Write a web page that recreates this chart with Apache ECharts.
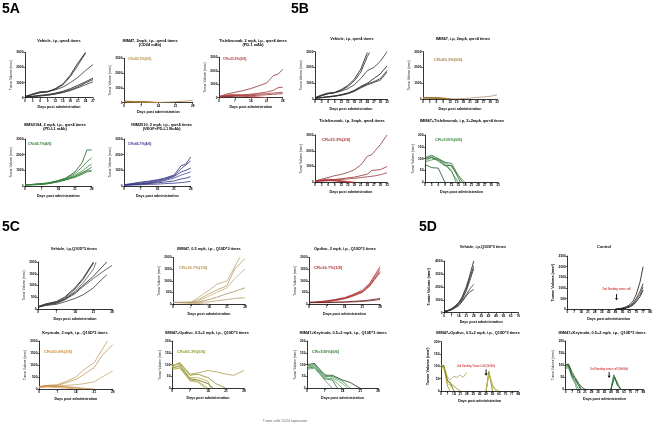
<!DOCTYPE html>
<html><head><meta charset="utf-8">
<script src="https://cdn.jsdelivr.net/npm/echarts@6.0.0/dist/echarts.min.js"></script>
<style>html,body{margin:0;padding:0;background:#fff}#c{width:658px;height:426px}</style>
</head><body><div id="c"></div>
<script>
// ---------- tick labels ----------
const ticksDays27 = [0,3,6,9,12,15,18,21,24,27];
const ticksDays28 = [0,7,14,21,28];
const ticksDays33 = [0,3,6,9,12,15,18,21,24,27,30,33];
const ticksDays70 = [0,7,14,21,28,35,42,49,56,63,70];
const ticksDays84 = [0,7,14,21,28,35,42,49,56,63,70,77,84];
const ticksVol3000 = [0,1000,2000,3000];
const ticksVol2000 = [0,500,1000,1500,2000];
const ticksVol200 = [0,50,100,150,200];
const ticksVol4000 = [0,1000,2000,3000,4000];
const ticksVol2500 = [0,500,1000,1500,2000,2500];

// ---------- series values: each mouse = [[day, tumor volume mm3], ...] ----------
const a1Vehicle = [
 [[0,80],[3,200],[6,330],[9,400],[12,600],[15,900],[18,1500],[21,2300],[24,3000]],
 [[0,70],[3,230],[6,360],[9,380],[12,560],[15,850],[18,1400],[21,2150],[24,2950]],
 [[0,60],[3,250],[6,400],[9,420],[12,520],[15,700],[18,1000],[21,1350],[24,1800],[27,2200]],
 [[0,50],[3,100],[6,160],[9,210],[12,300],[15,420],[18,600],[21,820],[24,1050],[27,1300]],
 [[0,40],[3,80],[6,130],[9,180],[12,260],[15,360],[18,520],[21,720],[24,980],[27,1200]],
 [[0,40],[3,70],[6,110],[9,160],[12,240],[15,340],[18,470],[21,660],[24,860],[27,1050]]
];
const a2Imm47 = [
 [[0,80],[3,75],[7,60],[10,40],[14,20],[17,30],[21,60],[24,100],[28,150]],
 [[0,90],[3,80],[7,70],[10,50],[14,0]],
 [[0,70],[3,65],[7,50],[10,30],[14,0]],
 [[0,100],[3,90],[7,60],[10,30],[12,0]],
 [[0,60],[3,55],[7,40],[10,20],[14,0]],
 [[0,80],[3,70],[7,50],[10,0]]
];
const a3Tisle = [
 [[0,80],[3,250],[7,400],[10,500],[14,680],[17,850],[21,1100],[24,1650],[26,1750],[28,2100]],
 [[0,80],[3,120],[7,160],[10,200],[14,260],[17,320],[21,420],[24,550],[26,750],[28,780]],
 [[0,70],[3,100],[7,150],[10,180],[14,220],[17,260],[21,300],[24,350],[26,380],[28,400]],
 [[0,60],[3,80],[7,100],[10,120],[14,150],[17,180],[21,220],[24,260],[28,300]],
 [[0,100],[3,200],[7,250],[10,200],[14,120],[17,60],[21,0]],
 [[0,80],[3,150],[7,180],[10,120],[14,50],[17,0]]
];
const a4Pdl1 = [
 [[0,80],[3,100],[7,150],[10,200],[14,350],[17,500],[21,900],[24,1500],[26,2300],[28,2300]],
 [[0,80],[3,100],[7,140],[10,200],[14,340],[17,480],[21,800],[24,1200],[26,1550],[28,1800]],
 [[0,80],[3,90],[7,130],[10,180],[14,320],[17,450],[21,700],[24,950],[26,1200],[28,1400]],
 [[0,70],[3,90],[7,120],[10,170],[14,300],[17,420],[21,620],[24,850],[26,1000],[28,1200]],
 [[0,70],[3,80],[7,110],[10,160],[14,300],[17,400],[21,600],[24,800],[26,950],[28,1000]],
 [[0,60],[3,70],[7,100],[10,150],[14,260],[17,380],[21,550],[24,750],[26,900],[28,950]]
];
const a5Imm2510 = [
 [[0,80],[3,150],[7,250],[10,300],[14,400],[17,500],[21,700],[24,1300],[26,1400],[28,1850]],
 [[0,80],[3,120],[7,200],[10,260],[14,350],[17,450],[21,650],[24,1100],[26,1350],[28,1600]],
 [[0,70],[3,100],[7,150],[10,200],[14,300],[17,400],[21,600],[24,900],[26,1000],[28,1150]],
 [[0,60],[3,90],[7,130],[10,180],[14,250],[17,350],[21,500],[24,700],[26,800],[28,900]],
 [[0,60],[3,80],[7,110],[10,150],[14,200],[17,250],[21,320],[24,450],[26,500],[28,600]],
 [[0,50],[3,60],[7,80],[10,100],[14,120],[17,150],[21,180],[24,220],[26,250],[28,300]]
];
const b1Vehicle = [
 [[0,80],[3,260],[6,380],[9,420],[12,600],[15,850],[18,1250],[21,1900],[24,2950]],
 [[0,70],[3,220],[6,340],[9,390],[12,540],[15,780],[18,1150],[21,1700],[24,2700],[25,2950]],
 [[0,60],[3,200],[6,330],[9,400],[12,500],[15,650],[18,900],[21,1300],[24,1800],[27,2000],[30,2400],[33,3000]],
 [[0,50],[3,100],[6,150],[9,200],[12,280],[15,380],[18,550],[21,800],[24,1000],[27,1300],[30,1600],[33,2100]],
 [[0,50],[3,90],[6,130],[9,180],[12,250],[15,350],[18,500],[21,750],[24,950],[27,1100],[30,1300],[33,1800]],
 [[0,40],[3,80],[6,120],[9,170],[12,240],[15,330],[18,480],[21,700],[24,900],[27,1050],[30,1200],[33,1700]]
];
const b2Imm47 = [
 [[0,80],[3,70],[6,60],[9,50],[12,20],[15,10],[18,30],[21,60],[24,100],[27,130],[30,170],[33,260]],
 [[0,90],[3,80],[6,70],[9,50],[12,0]],
 [[0,70],[3,60],[6,50],[9,30],[12,0]],
 [[0,100],[3,90],[6,80],[9,40],[12,0]],
 [[0,60],[3,50],[6,40],[9,20],[11,0]],
 [[0,80],[3,70],[6,60],[9,0]]
];
const b3Tisle = [
 [[0,80],[3,200],[6,300],[9,420],[12,500],[15,620],[18,800],[21,1100],[24,1650],[26,1750],[30,2400],[33,3000]],
 [[0,80],[3,100],[6,140],[9,180],[12,230],[15,280],[18,330],[21,420],[24,520],[26,750],[30,800],[33,1000]],
 [[0,60],[3,80],[6,110],[9,140],[12,180],[15,210],[18,250],[21,300],[24,350],[27,400],[30,480],[33,600]],
 [[0,80],[3,150],[6,200],[9,150],[12,100],[15,50],[18,0]],
 [[0,70],[3,120],[6,140],[9,110],[12,70],[15,20],[18,0]],
 [[0,60],[3,90],[6,110],[9,90],[12,50],[15,0]]
];
const b4Combo = [
 [[0,75],[3,62],[6,60],[9,0]],
 [[0,90],[3,105],[6,95],[9,75],[12,45],[15,0]],
 [[0,100],[3,115],[6,100],[9,85],[12,80],[15,30],[17,0]],
 [[0,110],[3,110],[6,95],[9,85],[12,65],[15,30],[18,0]],
 [[0,100],[3,105],[6,90],[9,70],[12,72],[15,20],[16,0]],
 [[0,85],[3,95],[6,100],[9,80],[12,50],[14,0]]
];
const c1Vehicle = [
 [[0,100],[3,220],[7,320],[10,500],[14,900],[17,1300],[21,2000]],
 [[0,100],[3,200],[7,300],[10,450],[14,850],[17,1250],[21,1950]],
 [[0,90],[3,210],[7,280],[10,420],[14,750],[17,1100],[21,1700],[22,2000]],
 [[0,80],[3,180],[7,250],[10,400],[14,700],[17,1000],[21,1400],[26,2000]],
 [[0,80],[3,170],[7,250],[10,380],[14,650],[17,950],[21,1300],[24,1550],[28,1850]],
 [[0,70],[3,150],[7,200],[10,300],[14,450],[17,600],[21,900],[24,1250],[26,1450]]
];
const c2Imm47 = [
 [[0,80],[3,80],[7,100],[10,300],[14,600],[17,850],[21,1000],[26,2000]],
 [[0,80],[3,80],[7,80],[10,200],[14,450],[17,600],[21,800],[24,1500],[28,1950]],
 [[0,80],[3,80],[7,80],[10,150],[14,350],[17,500],[21,700],[24,1100],[28,1500]],
 [[0,80],[3,80],[7,70],[10,100],[14,200],[17,300],[21,450],[24,550],[28,700]],
 [[0,70],[3,70],[7,60],[10,80],[14,100],[17,150],[21,200],[24,250],[28,280]],
 [[0,80],[3,70],[7,50],[10,30],[14,0]]
];
const c3Opdivo = [
 [[0,80],[3,100],[7,150],[10,200],[14,280],[17,400],[21,600],[24,900],[28,1600]],
 [[0,80],[3,90],[7,130],[10,180],[14,260],[17,380],[21,550],[24,850],[28,1500]],
 [[0,70],[3,80],[7,120],[10,170],[14,250],[17,350],[21,520],[24,800],[28,1400]],
 [[0,70],[3,80],[7,110],[10,150],[14,230],[17,330],[21,500],[24,780],[28,1350]],
 [[0,80],[3,80],[7,80],[10,90],[14,100],[17,120],[21,150],[24,180],[28,250]],
 [[0,70],[3,70],[7,70],[10,80],[14,90],[17,100],[21,120],[24,150],[28,200]]
];
const c4Keytruda = [
 [[0,100],[3,150],[7,180],[10,300],[14,500],[17,800],[21,1100],[26,2000]],
 [[0,100],[3,120],[7,150],[10,250],[14,400],[17,600],[21,900],[24,1400],[28,1850]],
 [[0,80],[3,100],[7,120],[10,150],[14,180],[17,220],[21,300],[24,500],[28,750]],
 [[0,100],[3,150],[7,120],[10,100],[14,60],[17,30],[21,0]],
 [[0,80],[3,120],[7,100],[10,80],[14,40],[17,0]],
 [[0,60],[3,80],[7,60],[10,40],[14,0]]
];
const c5ImmOpdivo = [
 [[0,90],[3,110],[7,60],[10,65],[14,75],[17,70],[21,60],[24,55],[28,75]],
 [[0,95],[3,105],[7,55],[10,60],[14,45],[17,20],[21,0]],
 [[0,100],[3,100],[7,45],[10,45],[14,30],[15,0]],
 [[0,85],[3,95],[7,40],[10,35],[14,20],[16,0]],
 [[0,90],[3,90],[7,30],[10,25],[13,0]],
 [[0,80],[3,85],[7,35],[10,30],[14,0]]
];
const c6ImmKeytruda = [
 [[0,100],[3,105],[7,55],[10,55],[14,35],[17,25],[21,0]],
 [[0,95],[3,100],[7,50],[10,50],[14,30],[17,0]],
 [[0,90],[3,95],[7,45],[10,40],[14,0]],
 [[0,85],[3,90],[7,40],[10,35],[12,0]],
 [[0,80],[3,85],[7,35],[10,0]],
 [[0,95],[3,100],[7,60],[10,45],[14,20],[16,0]]
];
const d1Vehicle = [
 [[0,100],[3,150],[7,300],[10,480],[14,800],[17,1200],[21,2000],[24,2800],[28,4000]],
 [[0,100],[3,140],[7,280],[10,450],[14,750],[17,1100],[21,1800],[24,2600],[28,3600]],
 [[0,90],[3,130],[7,260],[10,420],[14,700],[17,1000],[21,1700],[24,2400],[28,3400]],
 [[0,80],[3,120],[7,250],[10,380],[14,600],[17,900],[21,1400],[24,1800],[28,2200]],
 [[0,80],[3,110],[7,220],[10,350],[14,550],[17,850],[21,1300],[24,1600],[28,1800]]
];
const d2Control = [
 [[49,0],[53,30],[56,60],[60,120],[63,200],[67,400],[70,700],[74,1300],[77,2000]],
 [[49,0],[53,20],[56,40],[60,90],[63,150],[67,300],[70,500],[74,850],[77,1200]],
 [[49,0],[53,20],[56,30],[60,80],[63,130],[67,250],[70,420],[74,700],[77,1050]],
 [[49,0],[53,10],[56,20],[60,60],[63,100],[67,200],[70,350],[74,600],[77,900]]
];
const d3ImmOpdivo = [
 [[0,100],[3,105],[7,55],[10,45],[14,60],[17,55],[21,65],[24,55],[28,75]],
 [[0,105],[3,100],[7,45],[10,30],[14,20],[17,10],[21,0]],
 [[0,95],[3,100],[7,40],[10,35],[14,0]],
 [[0,90],[3,95],[7,30],[10,25],[14,0]],
 [[0,100],[3,105],[7,20],[10,0]],
 [[49,0],[52,80],[56,0]],
 [[49,0],[52,75],[56,25],[60,0]],
 [[49,0],[52,70],[56,15],[63,0]]
];
const d4ImmKeytruda = [
 [[0,100],[3,105],[7,70],[10,50],[14,25],[17,10],[21,0]],
 [[0,95],[3,100],[7,60],[10,45],[14,20],[17,0]],
 [[0,90],[3,95],[7,50],[10,30],[14,0]],
 [[0,85],[3,90],[7,45],[10,25],[12,0]],
 [[0,105],[3,100],[7,55],[10,40],[14,15],[16,0]],
 [[49,0],[52,60],[56,20],[60,0]],
 [[49,0],[52,55],[56,30],[59,0]],
 [[49,0],[53,50],[56,15],[60,0]]
];

// ---------- panels (text + data + colours) ----------
const BLK = ['#111','#222','#333','#111','#222','#333'];
const panels = [
 {id:'A1', title:['Vehicle, i.p, qw×4 times'], x:ticksDays27, y:ticksVol3000, data:a1Vehicle, colors:BLK},
 {id:'A2', title:['IMM47, 2mpk, i.p., qw×4 times','(CD24 mAb)'], x:ticksDays28, y:ticksVol3000, data:a2Imm47, colors:['#b08850','#a0702a','#c09050','#8a6020','#b07a30','#a08040'], cr:'CR=83.3%(5/6)', crColor:'#b8914a'},
 {id:'A3', title:['Tislelizumab, 2 mpk, i.p., qw×4 times','(PD-1 mAb)'], x:ticksDays28, y:ticksVol3000, data:a3Tisle, colors:['#8a3030','#a03030','#b04040','#902828','#c04848','#b03838'], cr:'CR=33.3%(2/6)', crColor:'#b03838'},
 {id:'A4', title:['BMS2194, 2 mpk, i.p., qw×4 times','(PD-L1 mAb)'], x:ticksDays28, y:ticksVol3000, data:a4Pdl1, colors:['#1e5e28','#2e7d32','#3a8a3a','#1e5e28','#4a9a4a','#2e7d32'], cr:'CR=66.7%(4/6)', crColor:'#2e7d32'},
 {id:'A5', title:['IMM2510, 2 mpk, i.p., qw×4 times','(VEGF×PD-L1 BsAb)'], x:ticksDays28, y:ticksVol3000, data:a5Imm2510, colors:['#2a2a78','#3a3a8a','#23236a','#4a4a9a','#2a2a78','#3a3a8a'], cr:'CR=66.7%(4/6)', crColor:'#33338a'},
 {id:'B1', title:['Vehicle, i.p, qw×4 times'], x:ticksDays33, y:ticksVol3000, data:b1Vehicle, colors:BLK},
 {id:'B2', title:['IMM47, i.p, 2mpk, qw×4 times'], x:ticksDays33, y:ticksVol3000, data:b2Imm47, colors:['#b09070','#a0702a','#c09050','#8a6020','#b07a30','#a08040'], cr:'CR=83.3%(5/6)', crColor:'#a8844a'},
 {id:'B3', title:['Tislelizumab, i.p, 2mpk, qw×4 times'], x:ticksDays33, y:ticksVol3000, data:b3Tisle, colors:['#8a3838','#903030','#a03a3a','#b03030','#c04040','#a02828'], cr:'CR=33.3%(2/6)', crColor:'#a83838'},
 {id:'B4', title:['IMM47+Tislelizumab, i.p, 2+2mpk, qw×4 times'], x:ticksDays33, y:ticksVol200, data:b4Combo, colors:['#1e4e28','#3a8a4a','#2e6e38','#5a9a5a','#1e5e28','#4a8a4a'], cr:'CR=100%(6/6)', crColor:'#3a8a3a'},
 {id:'C1', title:['Vehicle, i.p,Q10D*3 times'], x:ticksDays28, y:ticksVol2000, data:c1Vehicle, colors:['#111','#333','#555','#222','#444','#333']},
 {id:'C2', title:['IMM47, 0.5 mpk, i.p., Q10D*3 times'], x:ticksDays28, y:ticksVol2000, data:c2Imm47, colors:['#c0a870','#b89860','#c8b080','#a89060','#b8a070','#c0a070'], cr:'CR=16.7%(1/6)', crColor:'#b0944a'},
 {id:'C3', title:['Opdivo, 2 mpk, i.p., Q10D*3 times'], x:ticksDays28, y:ticksVol2000, data:c3Opdivo, colors:['#a02828','#b83838','#902020','#c04848','#501818','#802828'], cr:'CR=16.7%(1/6)', crColor:'#b03030'},
 {id:'C4', title:['Keytruda, 2 mpk, i.p., Q10D*3 times'], x:ticksDays28, y:ticksVol2000, data:c4Keytruda, colors:['#c8a060','#c09860','#c8a870','#d08838','#c89048','#d8a060'], cr:'CR=50.0%(3/6)', crColor:'#d08a30'},
 {id:'C5', title:['IMM47+Opdivo, 0.5+2 mpk, i.p., Q10D*3 times'], x:ticksDays28, y:ticksVol200, data:c5ImmOpdivo, colors:['#a8a050','#8a8a20','#b0b040','#6a6a10','#c0b860','#9a9a30'], cr:'CR=83.3%(5/6)', crColor:'#8a9a2a'},
 {id:'C6', title:['IMM47+Keytruda, 0.5+2 mpk, i.p., Q10D*3 times'], x:ticksDays28, y:ticksVol200, data:c6ImmKeytruda, colors:['#1a3a1a','#3a8a4a','#5aa060','#2e7040','#4a9a5a','#6ab070'], cr:'CR=100%(6/6)', crColor:'#2e7d32'},
 {id:'D1', title:['Vehicle, i.p,Q10D*3 times'], x:ticksDays70, y:ticksVol4000, data:d1Vehicle, colors:['#111','#222','#333','#444','#222'], boldY:true},
 {id:'D2', title:['Control'], x:ticksDays84, y:ticksVol2500, data:d2Control, colors:['#111','#222','#333','#111'], boldY:true},
 {id:'D3', title:['IMM47+Opdivo, 0.5+2 mpk, i.p., Q10D*3 times'], x:ticksDays84, y:ticksVol200, data:d3ImmOpdivo, colors:['#a8a050','#8a8a10','#6a6a00','#b0b040','#9a9a20','#7a7a00','#a0a030','#c0b850'], boldY:true},
 {id:'D4', title:['IMM47+Keytruda, 0.5+2 mpk, i.p., Q10D*3 times'], x:ticksDays84, y:ticksVol200, data:d4ImmKeytruda, colors:['#1a3a1a','#2e6e38','#3a8a4a','#5aa060','#1e5e28','#2e6e38','#3a8a4a','#1a4a20']}
];

// ---------- layout (pixels) ----------
const layout = {
 A1:{l:25,t:52.5,r:93,b:97.7, tx:59,ty:40.5},
 A2:{l:124,t:58.3,r:192.7,b:102.7, tx:150,ty:40.5, cx:128,cy:59.5},
 A3:{l:219,t:57.3,r:282.7,b:97.7, tx:253,ty:40.5, cx:223,cy:59.5},
 A4:{l:25,t:139,r:91.7,b:186, tx:55,ty:124.5, cx:28,cy:144},
 A5:{l:124,t:139,r:190.7,b:186, tx:161.7,ty:124.5, cx:128,cy:144},
 B1:{l:315,t:51.7,r:387,b:99, tx:352,ty:39},
 B2:{l:423,t:51.7,r:497,b:99, tx:463,ty:39, cx:434,cy:59.5},
 B3:{l:315,t:135,r:387,b:182.3, tx:352,ty:121, cx:322,cy:139.5},
 B4:{l:425,t:135,r:498,b:182.3, tx:462,ty:121, cx:435,cy:139.5},
 C1:{l:38,t:262,r:112,b:309, tx:74,ty:249},
 C2:{l:173,t:257.3,r:245,b:304.3, tx:209,ty:249, cx:179,cy:268.3},
 C3:{l:309,t:257.3,r:380,b:304.3, tx:345,ty:249, cx:314,cy:268.3},
 C4:{l:39,t:341,r:112.7,b:389, tx:75,ty:332.7, cx:44,cy:352.3},
 C5:{l:172,t:341,r:244,b:388.3, tx:207,ty:332.7, cx:177,cy:352.3},
 C6:{l:307,t:341,r:378,b:388.3, tx:343,ty:332.7, cx:312,cy:352.3},
 D1:{l:444,t:261,r:518.3,b:312.7, tx:483,ty:246.7},
 D2:{l:567.3,t:256,r:650,b:309.3, tx:604,ty:246.7},
 D3:{l:441,t:341.7,r:518.3,b:391, tx:478,ty:332.7},
 D4:{l:565.7,t:341,r:643.3,b:389.3, tx:602,ty:332.7}
};

const FONT = 'Liberation Sans, Arial, sans-serif';
const chart = echarts.init(document.getElementById('c'), null, {renderer:'canvas'});
const grid=[], xAxis=[], yAxis=[], series=[], graphic=[];

function txt(text, x, y, size, opts){
  opts = opts||{};
  graphic.push({type:'text', x:x, y:y, silent:true, style:{text:text,
    font:(opts.weight||'bold')+' '+size+'px '+FONT, fill:opts.color||'#000',
    align:opts.align||'center', verticalAlign:'middle', textAlign:opts.align||'center', textVerticalAlign:'middle'}});
}
const plain = v => String(v);

panels.forEach((p,i)=>{
  const L = layout[p.id];
  grid.push({left:L.l, top:L.t, width:L.r-L.l, height:L.b-L.t, containLabel:false});
  const axLine = {show:true, lineStyle:{color:'#000', width:0.8}};
  const axTick = {show:true, length:1.6, lineStyle:{color:'#000', width:0.6}};
  xAxis.push({type:'value', gridIndex:i, min:p.x[0], max:p.x[p.x.length-1], interval:p.x[1]-p.x[0],
    axisLine:{...axLine, onZero:false}, axisTick:axTick, splitLine:{show:false},
    axisLabel:{fontSize:3.2, margin:1.6, color:'#000', fontWeight:'bold', fontFamily:FONT, showMinLabel:true, showMaxLabel:true, formatter:plain},
    name:'Days post administration', nameLocation:'middle', nameGap:7.5,
    nameTextStyle:{fontSize:3.6, fontWeight:'bold', color:'#000', fontFamily:FONT}});
  yAxis.push({type:'value', gridIndex:i, min:p.y[0], max:p.y[p.y.length-1], interval:p.y[1]-p.y[0],
    axisLine:axLine, axisTick:axTick, splitLine:{show:false},
    axisLabel:{fontSize:3.2, margin:1.6, color:'#000', fontWeight:'bold', fontFamily:FONT, showMinLabel:true, showMaxLabel:true, formatter:plain},
    name:'Tumor Volume (mm³)', nameLocation:'middle', nameGap: p.boldY?11:10,
    nameTextStyle:{fontSize:p.boldY?3.8:3.2, fontWeight:p.boldY?'bold':'normal', color:'#000', fontFamily:FONT}});
  p.data.forEach((curve,k)=>{
    series.push({type:'line', xAxisIndex:i, yAxisIndex:i, data:curve, showSymbol:false, symbol:'none',
      silent:true, clip:true, lineStyle:{width:0.8, color:p.colors[k%p.colors.length]}, z:2});
  });
  p.title.forEach((t,j)=> txt(t, L.tx, L.ty + j*4.5, 3.9));
  if(p.cr) txt(p.cr, L.cx, L.cy, p.id[0]==='A'?3.4:4.1, {color:p.crColor, align:'left', weight:'bold'});
});

// panel letters and footer
txt('5A', 2, 9, 14, {align:'left', weight:'bold'});
txt('5B', 291, 9, 14, {align:'left', weight:'bold'});
txt('5C', 2, 227, 14, {align:'left', weight:'bold'});
txt('5D', 419, 227, 14, {align:'left', weight:'bold'});
txt('Tumor cells CD24 expression', 285, 421, 3.4, {color:'#666', weight:'normal'});

chart.setOption({animation:false, backgroundColor:'#fff', grid, xAxis, yAxis, series});

// annotations for the 2nd tumor seeding (placed in data coordinates)
function idx(id){ return panels.findIndex(p=>p.id===id); }
function arrow(id, day, v1, v2){
  const g = idx(id);
  const p1 = chart.convertToPixel({gridIndex:g}, [day, v1]);
  const p2 = chart.convertToPixel({gridIndex:g}, [day, v2]);
  graphic.push({type:'line', silent:true, shape:{x1:p1[0], y1:p1[1], x2:p2[0], y2:p2[1]-1.5}, style:{stroke:'#000', lineWidth:0.9}});
  graphic.push({type:'polygon', silent:true, shape:{points:[[p2[0]-1.6,p2[1]-2.2],[p2[0]+1.6,p2[1]-2.2],[p2[0],p2[1]]]}, style:{fill:'#000'}});
  return p1;
}
let a = arrow('D2', 50, 720, 420);
txt('2nd Seeding tumor cell', a[0], a[1]-5, 2.8, {color:'#c00000', weight:'normal'});
a = arrow('D3', 49, 88, 62);
txt('2nd Seeding Tumor Cell (5th/6th)', a[0]-10, a[1]-3, 2.6, {color:'#c00000', weight:'normal'});
a = arrow('D4', 47, 72, 47);
txt('2nd Seeding tumor cell (5th/6th)', a[0], a[1]-3, 2.7, {color:'#c00000', weight:'normal'});

chart.setOption({graphic});
</script></body></html>
